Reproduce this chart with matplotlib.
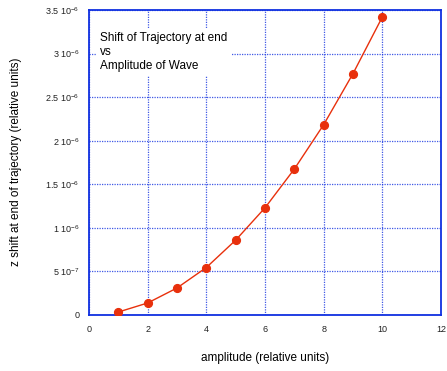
import matplotlib
matplotlib.use("Agg")
import matplotlib.pyplot as plt
from matplotlib.ticker import FixedLocator

plt.rcParams['font.family'] = ['Liberation Sans', 'DejaVu Sans']
plt.rcParams['mathtext.default'] = 'regular'

amplitude = [1, 2, 3, 4, 5, 6, 7, 8, 9, 10]
z_shift = [3.4e-8, 1.38e-7, 3.1e-7, 5.45e-7, 8.59e-7, 1.23e-6, 1.675e-6, 2.184e-6, 2.77e-6, 3.42e-6]

x_ticks = [0, 2, 4, 6, 8, 10, 12]
y_ticks = [0, 5e-7, 1e-6, 1.5e-6, 2e-6, 2.5e-6, 3e-6, 3.5e-6]
y_tick_labels = ["0", "5 10$^{-7}$", "1 10$^{-6}$", "1.5 10$^{-6}$", "2 10$^{-6}$",
                 "2.5 10$^{-6}$", "3 10$^{-6}$", "3.5 10$^{-6}$"]

blue = '#1030e0'
red = '#e8300c'

fig = plt.figure(figsize=(4.47, 3.71), dpi=100)
ax = fig.add_axes([89/447, 56/371, 352/447, 305/371])

ax.plot(amplitude, z_shift, color=red, lw=1.0, marker='o', markersize=5.6,
        markerfacecolor=red, markeredgecolor=red, zorder=3)

ax.set_xlim(0, 12)
ax.set_ylim(0, 3.5e-6)
ax.xaxis.set_major_locator(FixedLocator(x_ticks))
ax.set_xticklabels([str(t) for t in x_ticks])
ax.yaxis.set_major_locator(FixedLocator(y_ticks))
ax.set_yticklabels(y_tick_labels)

ax.grid(True, color=blue, linestyle=(0, (1, 1)), linewidth=0.9, alpha=0.8)
ax.set_axisbelow(True)
for s in ax.spines.values():
    s.set_color(blue)
    s.set_linewidth(1.3)

ax.tick_params(axis='both', length=0, labelsize=6.5, colors='#222222', pad=7)

fig.text(265/447, 1 - 358/371, 'amplitude (relative units)', fontsize=8.5,
         ha='center', va='center')
fig.text(16/447, 1 - 162/371, 'z shift at end of trajectory (relative units)',
         fontsize=8.5, ha='center', va='center', rotation=90)

ax.text((100 - 89)/352, 1 - 22/305,
        'Shift of Trajectory at end\nvs\nAmplitude of Wave',
        transform=ax.transAxes, fontsize=8.5, va='top', ha='left', linespacing=1.2,
        bbox=dict(facecolor='white', edgecolor='none', pad=3), zorder=4)

fig.savefig('out.png', dpi=100)
